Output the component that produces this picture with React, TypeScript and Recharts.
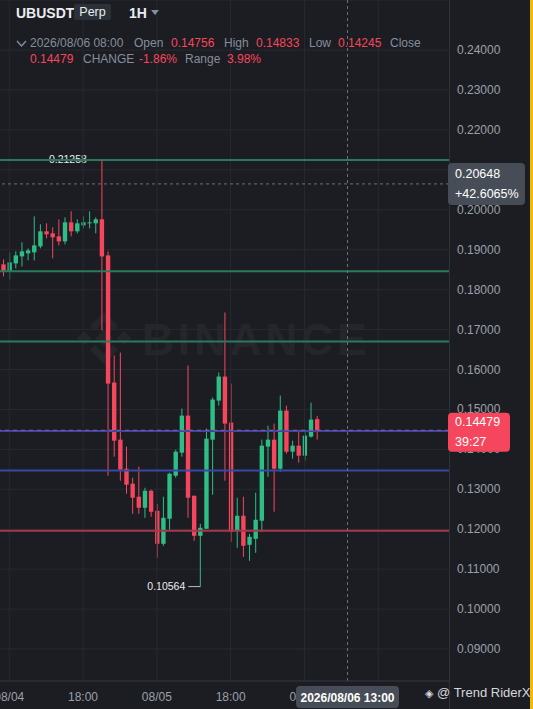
import React from "react";
import { ComposedChart, Bar, XAxis, YAxis, CartesianGrid, ReferenceLine } from "recharts";

const BG = "#1c1d22";
const GREEN = "#2ebd85";
const RED = "#f6465d";
const GRID = "#262a30";
const AXIS = "#2e3238";
const MUTED = "#9aa0a9";
const FONT = '"Liberation Sans", Arial, sans-serif';

// 1H candles, 2026/08/04 -> 2026/08/06 08:00
const opens = [0.18633, 0.18457, 0.18658, 0.18833, 0.18909, 0.18934, 0.19084, 0.1946, 0.1941, 0.19335, 0.19209, 0.19686, 0.1946, 0.19611, 0.19661, 0.19661, 0.19761, 0.18858, 0.15673, 0.14243, 0.13516, 0.1314, 0.12814, 0.12538, 0.12964, 0.12462, 0.11635, 0.12262, 0.1334, 0.13917, 0.14845, 0.12839, 0.11835, 0.12011, 0.14243, 0.15221, 0.15823, 0.1467, 0.11961, 0.12337, 0.1161, 0.1176, 0.12212, 0.14068, 0.14243, 0.13516, 0.1497, 0.13942, 0.14093, 0.13842, 0.14319, 0.14756];
const highs = [0.18758, 0.18934, 0.18959, 0.19184, 0.19034, 0.19836, 0.19636, 0.19661, 0.1956, 0.19761, 0.19811, 0.19962, 0.19761, 0.19836, 0.19962, 0.19811, 0.21258, 0.18959, 0.1635, 0.16425, 0.14068, 0.1329, 0.13566, 0.13039, 0.1299, 0.12638, 0.12814, 0.13416, 0.13992, 0.15021, 0.16099, 0.12839, 0.12136, 0.14519, 0.15297, 0.15924, 0.17429, 0.15648, 0.12789, 0.12814, 0.11886, 0.12914, 0.14243, 0.14594, 0.14645, 0.15347, 0.15096, 0.14218, 0.14494, 0.14494, 0.15171, 0.14833];
const lows = [0.18332, 0.18256, 0.18532, 0.18582, 0.18733, 0.18733, 0.19034, 0.19285, 0.18783, 0.19109, 0.19134, 0.19335, 0.1941, 0.19535, 0.19535, 0.1941, 0.16977, 0.1334, 0.13817, 0.13215, 0.12889, 0.12387, 0.12387, 0.12287, 0.12312, 0.11284, 0.11585, 0.11986, 0.1329, 0.13817, 0.12287, 0.1171, 0.10564, 0.12011, 0.12864, 0.15096, 0.13215, 0.11685, 0.11534, 0.11309, 0.11208, 0.11409, 0.11936, 0.13315, 0.12437, 0.13441, 0.13892, 0.13767, 0.13666, 0.13717, 0.14294, 0.14245];
const closes = [0.18457, 0.18683, 0.18858, 0.18959, 0.18984, 0.19109, 0.1946, 0.19385, 0.1931, 0.19209, 0.19686, 0.1946, 0.19661, 0.19686, 0.19686, 0.19761, 0.18833, 0.15648, 0.14218, 0.13491, 0.13115, 0.12789, 0.12538, 0.12964, 0.12437, 0.11635, 0.12287, 0.13391, 0.13942, 0.14845, 0.12789, 0.11835, 0.12036, 0.14268, 0.15247, 0.15823, 0.14645, 0.11936, 0.12337, 0.11585, 0.1181, 0.12237, 0.14093, 0.14243, 0.13516, 0.1497, 0.13942, 0.14093, 0.13842, 0.14344, 0.14745, 0.14479];

const SLOTS = 73; // visible hourly slots, incl. empty future ones
const HIGH_MARK = 16;
const LOW_MARK = 32;

const PRICE_TICKS = [0.09, 0.1, 0.11, 0.12, 0.13, 0.14, 0.15, 0.16, 0.17, 0.18, 0.19, 0.2, 0.21, 0.22, 0.23, 0.24];
const Y_DOMAIN = [0.08199, 0.25254];
const TIME_TICKS = [1, 13, 25, 37, 49, 61];
const TIME_LABELS = ["08/04", "18:00", "08/05", "18:00", "08/06", "18:00"];

// drawn lines
const GREEN_LEVELS = [0.2125, 0.1846, 0.167];
const BLUE_LEVELS = [0.1446, 0.1347];
const RED_LEVELS = [0.1196];
const LAST_PRICE = 0.14479;
const CROSS_PRICE = 0.20648;
const CROSS_SLOT = 56;

const data = Array.from({ length: SLOTS }, (_, i) =>
  i < opens.length
    ? { i, open: opens[i], high: highs[i], low: lows[i], close: closes[i], range: [lows[i], highs[i]] }
    : { i, range: null }
);

const Candle = (props: any) => {
  const { x, y, width, height, payload, index } = props;
  if (!payload || payload.open == null) return null;
  const { open, close, high, low } = payload;
  const top = Math.min(y, y + height);
  const h = Math.abs(height);
  const toY = (p: number) => top + ((high - p) / (high - low)) * h;
  const cx = x + width / 2;
  const color = close >= open ? GREEN : RED;
  const bt = toY(Math.max(open, close));
  const bb = toY(Math.min(open, close));
  return (
    <g>
      <line x1={cx} x2={cx} y1={top} y2={top + h} stroke={color} strokeWidth={1} />
      <rect x={cx - 2.2} y={bt} width={4.4} height={Math.max(1, bb - bt)} fill={color} />
      {index === HIGH_MARK && (
        <g>
          <line x1={cx - 12} x2={cx} y1={top} y2={top} stroke="#b7bdc6" />
          <text x={cx - 15} y={top + 3.5} textAnchor="end" fontSize={10.5} fill="#eaecef" fontFamily={FONT}>
            {high.toFixed(5)}
          </text>
        </g>
      )}
      {index === LOW_MARK && (
        <g>
          <line x1={cx - 12} x2={cx} y1={top + h} y2={top + h} stroke="#b7bdc6" />
          <text x={cx - 15} y={top + h + 3.5} textAnchor="end" fontSize={10.5} fill="#eaecef" fontFamily={FONT}>
            {low.toFixed(5)}
          </text>
        </g>
      )}
    </g>
  );
};

const PriceTick = (props: any) => {
  const { x, y, payload } = props;
  return (
    <text x={x} y={y} dy={4} textAnchor="start" fontSize={12} fill={MUTED} fontFamily={FONT}>
      {payload.value.toFixed(5)}
    </text>
  );
};

const TimeTick = (props: any) => {
  const { x, y, payload } = props;
  const label = TIME_LABELS[TIME_TICKS.indexOf(payload.value)];
  return (
    <text x={x} y={y} dy={12} textAnchor="middle" fontSize={12} fill={MUTED} fontFamily={FONT}>
      {label}
    </text>
  );
};

const PriceTag = (props: any) => {
  const { viewBox, top, bottom, fill, w, h, dy } = props;
  if (!viewBox) return null;
  const x = viewBox.x + viewBox.width - 1;
  const y = viewBox.y + dy;
  return (
    <g fontFamily={FONT}>
      <rect x={x} y={y - h / 2} width={w} height={h} rx={4} fill={fill} />
      <text x={x + 7} y={y - 6} fontSize={12.5} fill="#ffffff">{top}</text>
      <text x={x + 7} y={y + 14} fontSize={12.5} fill="#ffffff">{bottom}</text>
    </g>
  );
};

const TimeTag = (props: any) => {
  const { viewBox } = props;
  if (!viewBox) return null;
  const cx = viewBox.x;
  const y = viewBox.y + viewBox.height + 5;
  return (
    <g fontFamily={FONT}>
      <rect x={cx - 51.5} y={y} width={103} height={22} rx={4} fill="#474d57" />
      <text x={cx} y={y + 15.5} textAnchor="middle" fontSize={12} fontWeight={700} fill="#ffffff">
        2026/08/06 13:00
      </text>
    </g>
  );
};

const Watermark = () => (
  <svg width={449} height={681} style={{ position: "absolute", left: 0, top: 0 }}>
    <g fill="#24262c" transform="translate(104 338)">
      <rect x={-6} y={-6} width={12} height={12} transform="rotate(45)" />
      <rect x={-5} y={-5} width={10} height={10} transform="translate(-20 0) rotate(45)" />
      <rect x={-5} y={-5} width={10} height={10} transform="translate(20 0) rotate(45)" />
      <path d="M0 -26 L14 -12 L9 -7 L0 -16 L-9 -7 L-14 -12 Z" />
      <path d="M0 26 L14 12 L9 7 L0 16 L-9 7 L-14 12 Z" />
    </g>
    <text x={142} y={355} fontSize={44} fontWeight={700} letterSpacing={4} fill="#24262c" fontFamily={FONT}>
      BINANCE
    </text>
  </svg>
);

const Header = () => {
  const t = (left: number, top: number, text: string, color: string, extra: any = {}) => (
    <span style={{ position: "absolute", left, top, color, fontSize: 12, whiteSpace: "nowrap", lineHeight: "14px", ...extra }}>
      {text}
    </span>
  );
  return (
    <div style={{ position: "absolute", left: 0, top: 0, fontFamily: FONT }}>
      {t(16, 5, "UBUSDT", "#eaecef", { fontSize: 14, fontWeight: 700, lineHeight: "16px" })}
      <span style={{ position: "absolute", left: 74, top: 4, width: 37, height: 16, background: "#2b3139", borderRadius: 2, color: "#eaecef", fontSize: 12.5, lineHeight: "16px", textAlign: "center" }}>
        Perp
      </span>
      {t(129, 5, "1H", "#eaecef", { fontSize: 14, fontWeight: 700, lineHeight: "16px" })}
      <svg width={10} height={6} style={{ position: "absolute", left: 151, top: 10 }}>
        <path d="M0 0 L8 0 L4 5 Z" fill="#848e9c" />
      </svg>
      <svg width={12} height={8} style={{ position: "absolute", left: 16, top: 40 }}>
        <path d="M1 1 L5.5 6 L10 1" fill="none" stroke="#848e9c" strokeWidth={1.4} />
      </svg>
      {t(30, 36, "2026/08/06 08:00", "#848e9c")}
      {t(134, 36, "Open", "#848e9c")}
      {t(171, 36, "0.14756", RED)}
      {t(224, 36, "High", "#848e9c")}
      {t(256, 36, "0.14833", RED)}
      {t(309, 36, "Low", "#848e9c")}
      {t(338, 36, "0.14245", RED)}
      {t(390, 36, "Close", "#848e9c")}
      {t(30, 52, "0.14479", RED)}
      {t(83, 52, "CHANGE", "#848e9c")}
      {t(139, 52, "-1.86%", RED)}
      {t(185, 52, "Range", "#848e9c")}
      {t(227, 52, "3.98%", RED)}
    </div>
  );
};

const CHART_MARGIN = { top: 0, right: 0, bottom: 0, left: 0 };

export default function App() {
  return (
    <div style={{ position: "absolute", left: 0, top: 0, width: 533, height: 709, background: BG, overflow: "hidden", fontFamily: FONT }}>
      <Watermark />
      <div style={{ position: "absolute", left: 449, top: 0, width: 1, height: 709, background: AXIS }} />
      <div style={{ position: "absolute", left: 0, top: 0 }}>
        <ComposedChart width={533} height={709} data={data} margin={CHART_MARGIN}>
          <CartesianGrid horizontal vertical={false} stroke={GRID} />
          {TIME_TICKS.map((t) => (
            <ReferenceLine key={"g" + t} x={t} stroke={GRID} />
          ))}
          <XAxis dataKey="i" type="category" ticks={TIME_TICKS} interval={0} height={28} tickLine={false} axisLine={{ stroke: AXIS }} tick={<TimeTick />} />
          <YAxis orientation="right" type="number" domain={Y_DOMAIN} ticks={PRICE_TICKS} allowDataOverflow width={84} tickLine={false} axisLine={false} tick={<PriceTick />} />
          {GREEN_LEVELS.map((v) => (
            <ReferenceLine key={"gl" + v} y={v} stroke="#2a7a5b" strokeWidth={2} />
          ))}
          {BLUE_LEVELS.map((v) => (
            <ReferenceLine key={"bl" + v} y={v} stroke="#3848a8" strokeWidth={2} />
          ))}
          {RED_LEVELS.map((v) => (
            <ReferenceLine key={"rl" + v} y={v} stroke="#a23a4b" strokeWidth={2} />
          ))}
          <Bar dataKey="range" barSize={5} shape={<Candle />} isAnimationActive={false} activeBar={false} />
          <ReferenceLine y={LAST_PRICE} stroke="#b0508a" strokeDasharray="4 4" strokeWidth={1} />
          <ReferenceLine y={CROSS_PRICE} stroke="#6b717b" strokeDasharray="3 3" />
          <ReferenceLine x={CROSS_SLOT} stroke="#6b717b" strokeDasharray="3 3" />
        </ComposedChart>
      </div>
      {/* same axes again, transparent, so the price / time tags sit above the axis labels */}
      <div style={{ position: "absolute", left: 0, top: 0 }}>
        <ComposedChart width={533} height={709} data={data} margin={CHART_MARGIN}>
          <XAxis dataKey="i" type="category" height={28} tick={false} tickLine={false} axisLine={false} />
          <YAxis orientation="right" type="number" domain={Y_DOMAIN} allowDataOverflow width={84} tick={false} tickLine={false} axisLine={false} />
          <Bar dataKey="range" shape={() => null} isAnimationActive={false} activeBar={false} />
          <ReferenceLine
            y={LAST_PRICE}
            strokeOpacity={0}
            label={<PriceTag top="0.14479" bottom="39:27" fill={RED} w={62} h={39} dy={2} />}
          />
          <ReferenceLine
            y={CROSS_PRICE}
            strokeOpacity={0}
            label={<PriceTag top="0.20648" bottom="+42.6065%" fill="#474d57" w={77} h={42} dy={0} />}
          />
          <ReferenceLine x={CROSS_SLOT} strokeOpacity={0} label={<TimeTag />} />
        </ComposedChart>
      </div>
      <Header />
      <div style={{ position: "absolute", left: 530, top: 0, width: 3, height: 709, background: "#f0b90b" }} />
      <div style={{ position: "absolute", left: 425, top: 685, color: "#d5d8dc", fontSize: 13, whiteSpace: "nowrap", fontFamily: '"DejaVu Sans", sans-serif' }}>
        <span style={{ fontSize: 11 }}>◈</span>
        <span style={{ fontFamily: FONT }}> @ Trend RiderX</span>
      </div>
    </div>
  );
}
